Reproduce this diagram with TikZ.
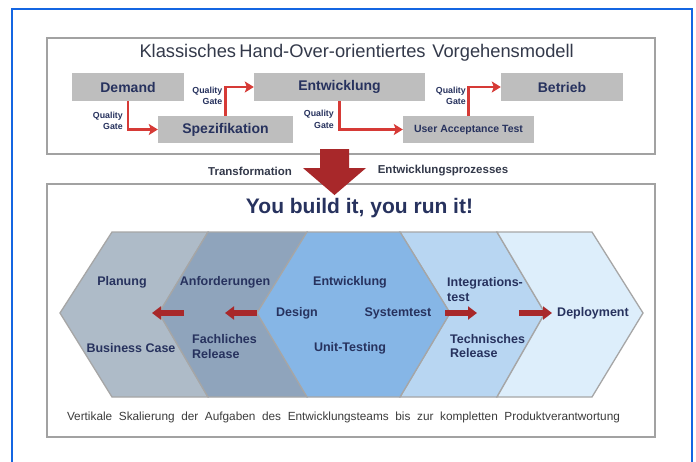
\documentclass[tikz,border=0pt]{standalone}
\usepackage{fontspec}
\setmainfont{Liberation Sans}
\usetikzlibrary{arrows.meta}

\definecolor{framblue}{HTML}{1466E2}
\definecolor{panelgrey}{HTML}{A2A2A2}
\definecolor{boxgrey}{HTML}{BEBEBE}
\definecolor{navy}{HTML}{27325E}
\definecolor{titlegrey}{HTML}{33394A}
\definecolor{gatered}{HTML}{D63A36}
\definecolor{darkred}{HTML}{A8282A}
\definecolor{hexA}{HTML}{AEBBC8}
\definecolor{hexB}{HTML}{8FA4BC}
\definecolor{hexC}{HTML}{86B6E6}
\definecolor{hexD}{HTML}{B8D6F2}
\definecolor{hexE}{HTML}{DDEEFB}
\definecolor{hexline}{HTML}{A6A6A6}
\definecolor{footgrey}{HTML}{3C3C3C}

\newcommand{\fs}[1]{\fontsize{#1}{#1}\selectfont}

\tikzset{
  panel/.style={draw=panelgrey, line width=1.5pt, fill=white},
  phasebox/.style={fill=boxgrey, draw=none, inner sep=0pt, font=\bfseries\fs{14}, text=navy},
  gatearrow/.style={draw=gatered, line width=2.6pt, -{Stealth[length=9pt,width=11pt,inset=2pt]}},
  gatelabel/.style={font=\bfseries\fs{8.8}, text=navy, align=right, inner sep=0pt, anchor=east},
  hexface/.style={draw=hexline, line width=1.3pt, line join=miter},
  hexlabel/.style={font=\bfseries\fs{12.5}, text=navy, inner sep=0pt},
  blockarrow/.style={draw=darkred, line width=6pt, -{Triangle[length=9pt,width=13pt]}},
  sidelabel/.style={font=\bfseries\fs{11.5}, text=titlegrey, inner sep=0pt}
}

\begin{document}
\begin{tikzpicture}[x=1pt,y=-1pt]
\path[use as bounding box, fill=white] (0,0) rectangle (696,461);

% outer blue frame, open at the bottom
\draw[framblue, line width=2.4pt] (12,470) -- (12,9) -- (692,9) -- (692,470);

% upper panel: classic hand-over model
\draw[panel] (47,38) rectangle (655,154);
\node[font=\fs{18.3}, text=titlegrey, inner sep=0pt] (title) at (351,53)
  {\makebox[423pt][s]{Klassisches Hand-Over-orientiertes \ Vorgehensmodell}};

\node[phasebox, minimum width=112pt, minimum height=28pt] (dem)  at (128,87)    {Demand};
\node[phasebox, minimum width=171pt, minimum height=28pt] (entw) at (339.5,87)  {Entwicklung};
\node[phasebox, minimum width=122pt, minimum height=28pt] (betr) at (562,87)    {Betrieb};
\node[phasebox, minimum width=135pt, minimum height=27pt] (spez) at (225.5,129.5) {Spezifikation};
\node[phasebox, minimum width=131pt, minimum height=27pt, font=\bfseries\fs{10.5}] (uat) at (468.5,129.5) {User Acceptance Test};

\draw[gatearrow] (dem.south)  |- (spez.west);
\draw[gatearrow] (spez.north) |- (entw.west);
\draw[gatearrow] (entw.south) |- (uat.west);
\draw[gatearrow] (uat.north)  |- (betr.west);

\node[gatelabel] (g1) at (123,121)   {Quality\\[2.5pt]Gate};
\node[gatelabel] (g2) at (222.5,96)  {Quality\\[2.5pt]Gate};
\node[gatelabel] (g3) at (334,119.5) {Quality\\[2.5pt]Gate};
\node[gatelabel] (g4) at (466,96)    {Quality\\[2.5pt]Gate};

% lower panel: you build it, you run it
\draw[panel] (47,184) rectangle (655,437);

% transformation arrow between the panels
\fill[darkred] (320,149) -- (349,149) -- (349,168) -- (366,168) -- (334.5,195)
  -- (303,168) -- (320,168) -- cycle;
\node[sidelabel] (tr)  at (250,171) {Transformation};
\node[sidelabel] (epr) at (443,171) {Entwicklungsprozesses};

\node[font=\bfseries\fs{21}, text=navy, inner sep=0pt] (motto) at (359.5,208)
  {You build it, you run it!};

% chevron band of responsibilities
\filldraw[hexface, fill=hexA] (112,232) -- (208,232) -- (159,313) -- (208,397) -- (112,397) -- (60,313) -- cycle;
\filldraw[hexface, fill=hexB] (208,232) -- (307,232) -- (257,313) -- (307,397) -- (208,397) -- (159,313) -- cycle;
\filldraw[hexface, fill=hexD] (400,232) -- (497,232) -- (545,313) -- (497,397) -- (400,397) -- (450,313) -- cycle;
\filldraw[hexface, fill=hexE] (497,232) -- (592,232) -- (643,313) -- (592,397) -- (497,397) -- (545,313) -- cycle;
\filldraw[hexface, fill=hexC] (307,232) -- (400,232) -- (450,313) -- (400,397) -- (307,397) -- (257,313) -- cycle;

\node[hexlabel] (plan) at (122,282) {Planung};
\node[hexlabel] (anf)  at (225,282) {Anforderungen};
\node[hexlabel] (ent)  at (350,282) {Entwicklung};
\node[hexlabel, align=left, anchor=west] (integ) at (447,289.5) {Integrations-\\[2.5pt]test};
\node[hexlabel] (des)  at (297,313) {Design};
\node[hexlabel] (syst) at (398,313) {Systemtest};
\node[hexlabel] (depl) at (593,313) {Deployment};
\node[hexlabel] (bc)   at (131,348) {Business Case};
\node[hexlabel, align=left, anchor=west] (fach) at (192,346.5) {Fachliches\\[2.5pt]Release};
\node[hexlabel] (unit) at (350,348) {Unit-Testing};
\node[hexlabel, align=left, anchor=west] (tech) at (450,346) {Technisches\\[2pt]Release};

% hand-over arrows inside the band
\coordinate (l1s) at (184,313); \coordinate (l1e) at (152,313);
\coordinate (l2s) at (257,313); \coordinate (l2e) at (225,313);
\coordinate (r1s) at (445,313); \coordinate (r1e) at (477,313);
\coordinate (r2s) at (519,313); \coordinate (r2e) at (552,313);
\draw[blockarrow] (l1s) -- (l1e);
\draw[blockarrow] (l2s) -- (l2e);
\draw[blockarrow] (r1s) -- (r1e);
\draw[blockarrow] (r2s) -- (r2e);

\node[font=\fs{11.8}, text=footgrey, inner sep=0pt] (foot) at (343.5,417)
  {\makebox[553pt][s]{Vertikale Skalierung der Aufgaben des Entwicklungsteams bis zur kompletten Produktverantwortung}};
\end{tikzpicture}
\end{document}
